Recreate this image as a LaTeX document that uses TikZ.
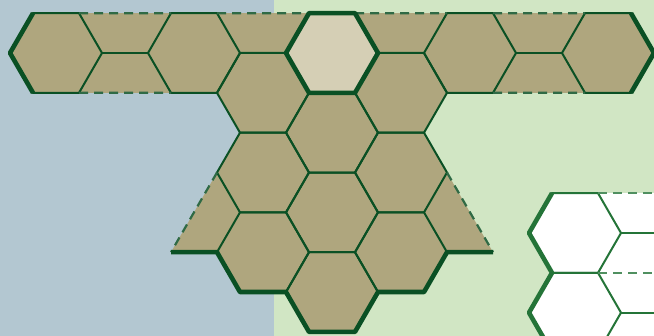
\documentclass[tikz,border=0pt]{standalone}
\definecolor{darkgreen}{RGB}{10,80,36}
\definecolor{midgreen}{RGB}{36,116,56}
\definecolor{seablue}{RGB}{179,199,209}
\definecolor{meadow}{RGB}{209,230,196}
\definecolor{khaki}{RGB}{175,166,126}
\definecolor{palekhaki}{RGB}{213,207,181}
\colorlet{hexline}{darkgreen}
\usetikzlibrary{calc}

% flat-topped cell of radius 46 round (#1,#2)
\newcommand{\hexat}[2]{(#1,#2) ++(0:46) -- ++(120:46) -- ++(180:46) -- ++(240:46) -- ++(300:46) -- ++(0:46) -- cycle}

\begin{document}
\begin{tikzpicture}[
    x=1pt, y=-1pt,
    cell/.style={draw=hexline, line width=2pt},
    rim/.style={draw=hexline, line width=4.6pt, line join=round},
    cutedge/.style={draw=hexline!85, line width=2.2pt, dash pattern=on 9pt off 6pt},
    ghost/.style={draw=midgreen, line width=2pt},
  ]
  \useasboundingbox (0,0) rectangle (654,336);
  \clip (0,0) rectangle (654,336);
  % backdrop
  \fill[seablue] (0,0) rectangle (274,336);
  \fill[meadow] (274,0) rectangle (654,336);
  % board
  \fill[khaki] (10,53) -- (33,13.16) -- (631,13.16) -- (654,53) -- (631,92.84)
    -- (447,92.84) -- (424,132.68) -- (447,172.52) -- (493,252.2) -- (447,252.2)
    -- (424,292.04) -- (378,292.04) -- (355,331.88) -- (309,331.88) -- (286,292.04)
    -- (240,292.04) -- (217,252.2) -- (171,252.2) -- (217,172.52) -- (240,132.68)
    -- (217,92.84) -- (33,92.84) -- cycle;
  % whole cells (column / half row)
  \foreach \k/\r in {0/0, 2/0, 6/0, 8/0, 3/1, 5/1, 4/2, 3/3, 5/3, 4/4, 3/5, 5/5, 4/6}
    \draw[cell] \hexat{56+69*\k}{53+39.84*\r};
  % halves of the cut cells
  \draw[cell] (102,53) -- (148,53) (516,53) -- (562,53);
  % cut edges
  \draw[cutedge] (79,13.16) -- (171,13.16) (217,13.16) -- (309,13.16)
    (355,13.16) -- (447,13.16) (493,13.16) -- (585,13.16)
    (79,92.84) -- (171,92.84) (493,92.84) -- (585,92.84)
    (217,172.52) -- (171,252.2) (447,172.52) -- (493,252.2);
  % rims
  \draw[rim] (33,13.16) -- (10,53) -- (33,92.84);
  \draw[rim] (631,13.16) -- (654,53) -- (631,92.84);
  \draw[rim] (171,252.2) -- (217,252.2) -- (240,292.04) -- (286,292.04)
    -- (309,331.88) -- (355,331.88) -- (378,292.04) -- (424,292.04)
    -- (447,252.2) -- (493,252.2);
  % picked cell
  \filldraw[rim, fill=palekhaki] \hexat{332}{53};
  % next board
  \fill[white] (552,193.16) -- (654,193.16) -- (654,352.52) -- (552,352.52)
    -- (529,312.68) -- (552,272.84) -- (529,233) -- cycle;
  \foreach \cy in {233, 312.68}
    \draw[ghost] \hexat{575}{\cy};
  \draw[ghost] (621,233) -- (654,233) (621,312.68) -- (654,312.68);
  \draw[ghost, dash pattern=on 9pt off 6pt, draw=midgreen!80] (598,193.16) -- (654,193.16)
    (598,272.84) -- (654,272.84);
  \draw[rim, draw=midgreen] (552,193.16) -- (529,233) -- (552,272.84)
    -- (529,312.68) -- (552,352.52);
\end{tikzpicture}
\end{document}
